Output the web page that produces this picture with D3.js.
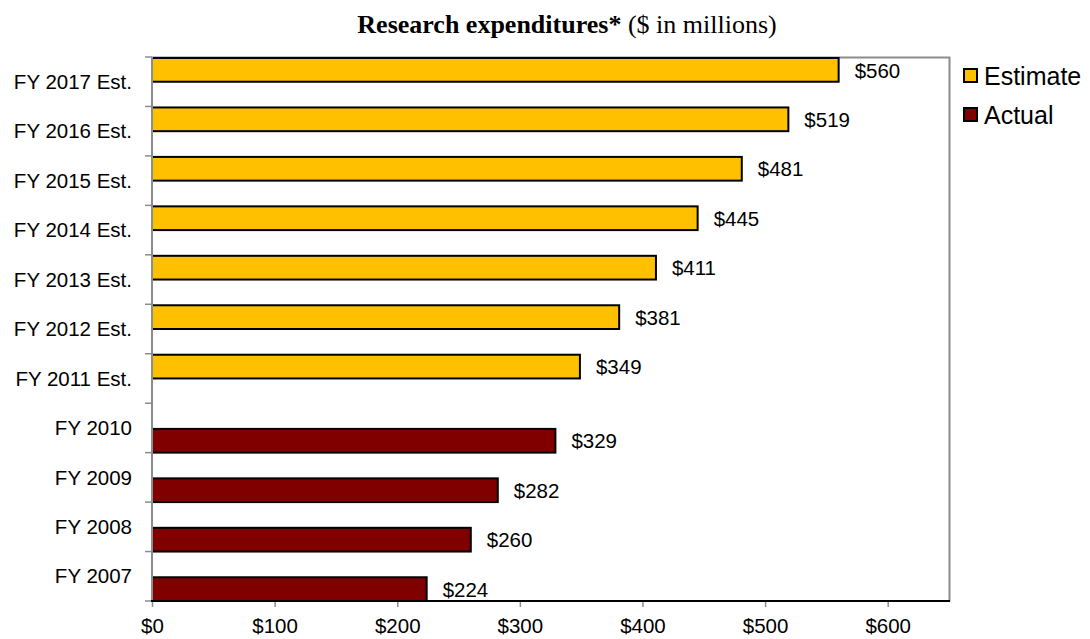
<!DOCTYPE html>
<html>
<head>
<meta charset="utf-8">
<script src="https://cdn.jsdelivr.net/npm/d3@7"></script>
<style>
  body { margin: 0; background: #fff; }
  svg { display: block; }
</style>
</head>
<body>
<svg id="chart" width="1090" height="639"></svg>
<script>
// Fiscal years, bottom to top
const categories = ["FY 2007", "FY 2008", "FY 2009", "FY 2010", "FY 2011 Est.", "FY 2012 Est.",
  "FY 2013 Est.", "FY 2014 Est.", "FY 2015 Est.", "FY 2016 Est.", "FY 2017 Est."];
// Research expenditures ($ millions); null where a series has no value
const actualValues = [224, 260, 282, 329, null, null, null, null, null, null, null];
const estimateValues = [null, null, null, null, 349, 381, 411, 445, 481, 519, 560];
const seriesNames = ["Estimate", "Actual"];
const xTickValues = [0, 100, 200, 300, 400, 500, 600];

const colors = { Estimate: "#FFC000", Actual: "#800000" };
const sans = "Liberation Sans, Arial, sans-serif";

const svg = d3.select("#chart");
const margin = { left: 152, right: 141, top: 57, bottom: 38 };
const W = 1090, H = 639;
const plotW = W - margin.left - margin.right;
const plotH = H - margin.top - margin.bottom;

const g = svg.append("g").attr("transform", `translate(${margin.left},${margin.top})`);

const x = d3.scaleLinear().domain([0, 650]).range([0, plotW]);
const y = d3.scaleBand().domain(categories.slice().reverse()).range([0, plotH]).padding(0);
// Two series per category slot: Estimate above, Actual below
const sub = d3.scaleBand().domain(seriesNames).range([0, y.bandwidth()]).padding(0);

// Plot frame (top and right edges)
g.append("path")
  .attr("d", `M0,0.5H${plotW + 0.5}V${plotH}`)
  .attr("fill", "none").attr("stroke", "#8c8c8c").attr("stroke-width", 2);

const rows = categories.map((c, i) => ({ c, Estimate: estimateValues[i], Actual: actualValues[i] }));

const bars = [];
rows.forEach(r => seriesNames.forEach(s => { if (r[s] != null) bars.push({ c: r.c, s, v: r[s] }); }));

g.selectAll("rect.bar").data(bars).join("rect")
  .attr("class", "bar")
  .attr("x", 0)
  .attr("y", d => y(d.c) + sub(d.s) + 1)
  .attr("width", d => x(d.v))
  .attr("height", sub.bandwidth() - 1)
  .attr("fill", d => colors[d.s])
  .attr("stroke", "#000").attr("stroke-width", 2);

g.selectAll("text.val").data(bars).join("text")
  .attr("class", "val")
  .attr("x", d => x(d.v) + 16)
  .attr("y", d => y(d.c) + sub(d.s) + sub.bandwidth() / 2 + 1)
  .attr("dy", "0.35em")
  .attr("font-family", sans)
  .attr("font-size", 20.5)
  .attr("fill", "#000")
  .text(d => "$" + d.v);

// Y axis: ticks at category boundaries
const yAxisG = g.append("g");
yAxisG.append("line").attr("x1", 0).attr("x2", 0).attr("y1", 0).attr("y2", plotH)
  .attr("stroke", "#8c8c8c").attr("stroke-width", 2);
const boundaries = categories.slice().reverse().map(c => y(c)).concat([plotH]);
yAxisG.selectAll("line.tick").data(boundaries).join("line")
  .attr("class", "tick")
  .attr("x1", -7).attr("x2", 0)
  .attr("y1", d => d).attr("y2", d => d)
  .attr("stroke", "#8c8c8c").attr("stroke-width", 1.5);
yAxisG.selectAll("text").data(categories).join("text")
  .attr("x", -20)
  .attr("y", d => y(d) + y.bandwidth() / 2)
  .attr("dy", "0.35em")
  .attr("text-anchor", "end")
  .attr("font-family", sans)
  .attr("font-size", 20.5)
  .text(d => d);

// X axis
const xAxis = d3.axisBottom(x).tickValues(xTickValues).tickSize(6).tickPadding(11)
  .tickFormat(d => "$" + d);
const xg = g.append("g").attr("transform", `translate(0,${plotH})`).call(xAxis);
xg.select(".domain").remove();
xg.selectAll(".tick line").attr("stroke", "#8c8c8c").attr("stroke-width", 1.5);
xg.selectAll(".tick text")
  .attr("font-family", sans)
  .attr("font-size", 20.5).attr("fill", "#000");
g.append("line").attr("x1", -1).attr("x2", plotW + 1).attr("y1", plotH).attr("y2", plotH)
  .attr("stroke", "#000").attr("stroke-width", 2);

// Title
const title = svg.append("text")
  .attr("x", 567).attr("y", 33)
  .attr("text-anchor", "middle")
  .attr("font-family", "Liberation Serif, DejaVu Serif, serif")
  .attr("font-size", 26);
title.append("tspan").attr("font-weight", "bold").text("Research expenditures*");
title.append("tspan").text(" ($ in millions)");

// Legend
const legend = svg.append("g").attr("transform", "translate(964,69)");
const li = legend.selectAll("g").data(seriesNames).join("g")
  .attr("transform", (d, i) => `translate(0,${i * 39})`);
li.append("rect").attr("x", 0).attr("y", 0).attr("width", 13).attr("height", 13)
  .attr("fill", d => colors[d]).attr("stroke", "#000").attr("stroke-width", 2);
li.append("text").attr("x", 20).attr("y", 7).attr("dy", "0.35em")
  .attr("font-family", sans)
  .attr("font-size", 25)
  .text(d => d);
</script>
</body>
</html>
